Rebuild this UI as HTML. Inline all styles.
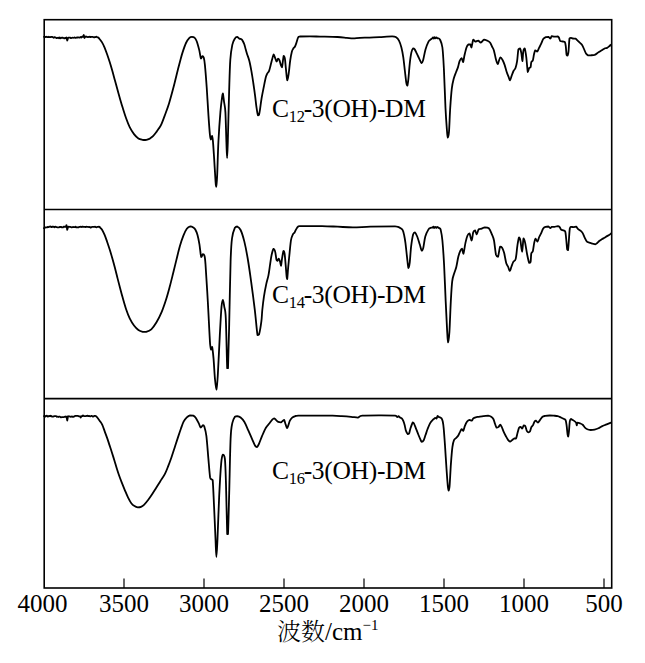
<!DOCTYPE html>
<html><head><meta charset="utf-8"><title>IR spectra</title>
<style>html,body{margin:0;padding:0;background:#fff;}body{width:645px;height:663px;overflow:hidden;}svg{display:block;}</style>
</head><body>
<svg width="645" height="663" viewBox="0 0 645 663"><rect x="0" y="0" width="645" height="663" fill="#fff"/><path d="M44.00,36.84C44.12,36.82 44.50,36.71 44.75,36.71C45.00,36.77 45.25,37.19 45.50,37.19C45.75,37.19 46.00,36.71 46.25,36.70C46.50,36.70 46.75,37.09 47.00,37.14C47.25,37.14 47.50,37.08 47.75,37.02C48.00,36.96 48.25,36.77 48.50,36.77C48.75,36.80 49.00,37.19 49.25,37.20C49.50,37.20 49.75,36.81 50.00,36.81C50.25,36.81 50.50,37.18 50.75,37.19C51.00,37.19 51.25,36.93 51.50,36.89C51.75,36.89 52.00,36.89 52.25,36.95C52.50,37.02 52.75,37.19 53.00,37.32C53.25,37.45 53.50,37.74 53.75,37.74C54.00,37.72 54.25,37.24 54.50,37.17C54.75,37.17 55.00,37.22 55.25,37.32C55.50,37.42 55.75,37.62 56.00,37.75C56.25,37.88 56.50,38.09 56.75,38.10C57.00,38.10 57.25,37.89 57.50,37.83C57.75,37.77 58.00,37.72 58.25,37.72C58.50,37.80 58.75,38.29 59.00,38.29C59.25,38.25 59.50,37.50 59.75,37.50C60.00,37.50 60.25,38.23 60.50,38.28C60.75,38.28 61.00,37.90 61.25,37.81C61.50,37.73 61.75,37.74 62.00,37.73C62.25,37.73 62.50,37.73 62.75,37.75C63.00,37.79 63.25,37.85 63.50,37.97C63.75,38.09 64.00,38.47 64.25,38.47C64.50,38.46 64.75,37.93 65.00,37.89C65.25,37.89 65.50,38.23 65.75,38.23C66.00,38.15 66.25,37.40 66.50,37.40C66.75,37.80 67.00,40.48 67.25,40.60C67.50,40.60 67.75,38.61 68.00,38.12C68.25,37.65 68.50,37.73 68.75,37.65C69.00,37.62 69.25,37.62 69.50,37.62C69.75,37.63 70.00,37.64 70.25,37.72C70.50,37.80 70.75,38.08 71.00,38.10C71.25,38.10 71.50,37.89 71.75,37.82C72.00,37.75 72.25,37.67 72.50,37.67C72.75,37.68 73.00,37.86 73.25,37.86C73.50,37.86 73.75,37.75 74.00,37.69C74.25,37.63 74.50,37.50 74.75,37.50C75.00,37.53 75.25,37.86 75.50,37.90C75.75,37.90 76.00,37.86 76.25,37.76C76.50,37.66 76.75,37.32 77.00,37.28C77.25,37.28 77.50,37.48 77.75,37.50C78.00,37.50 78.25,37.39 78.50,37.39C78.75,37.41 79.00,37.62 79.25,37.63C79.50,37.63 79.75,37.54 80.00,37.43C80.25,37.32 80.50,36.96 80.75,36.96C81.00,36.97 81.25,37.51 81.50,37.51C81.75,37.46 82.00,36.78 82.25,36.67C82.50,36.67 82.75,36.86 83.00,36.86C83.25,36.58 83.50,35.00 83.75,35.00C84.00,35.19 84.25,37.69 84.50,38.00C84.75,38.00 85.00,37.11 85.25,36.85C85.50,36.59 85.75,36.43 86.00,36.43C86.25,36.45 86.50,36.88 86.75,36.98C87.00,37.05 87.25,37.05 87.50,37.05C87.75,37.03 88.00,36.87 88.25,36.87C88.50,36.89 88.75,37.16 89.00,37.16C89.25,37.13 89.50,36.69 89.75,36.67C90.00,36.67 90.25,36.98 90.50,37.03C90.75,37.03 91.00,36.96 91.25,36.95C91.50,36.95 91.75,36.95 92.00,36.95C92.25,36.94 92.50,36.86 92.75,36.86C93.00,36.91 93.25,37.15 93.50,37.24C93.75,37.33 94.00,37.38 94.25,37.38C94.50,37.34 94.75,37.03 95.00,37.00C95.25,37.00 95.50,37.21 95.75,37.21C96.00,37.16 96.25,36.71 96.50,36.71C96.75,36.73 97.00,37.24 97.25,37.34C97.50,37.34 97.79,37.33 98.00,37.33C98.21,37.37 98.28,37.37 98.50,37.60C98.72,37.83 98.73,37.95 99.30,38.70C99.87,39.45 101.03,40.67 101.90,42.10C102.77,43.53 103.63,45.27 104.50,47.30C105.37,49.33 106.23,51.83 107.10,54.30C107.97,56.77 108.83,59.35 109.70,62.10C110.57,64.85 111.43,67.77 112.30,70.80C113.17,73.83 114.03,77.13 114.90,80.30C115.77,83.47 116.62,86.62 117.50,89.80C118.38,92.98 119.32,96.35 120.20,99.40C121.08,102.45 121.80,104.92 122.80,108.10C123.80,111.28 125.05,115.33 126.20,118.50C127.35,121.67 128.40,124.50 129.70,127.10C131.00,129.70 132.55,132.22 134.00,134.10C135.45,135.98 136.98,137.45 138.40,138.40C139.82,139.35 141.37,139.53 142.50,139.80C143.63,140.00 144.28,140.00 145.20,140.00C146.12,139.92 147.13,139.60 148.00,139.30C148.87,139.00 149.57,138.72 150.40,138.20C151.23,137.68 152.02,137.22 153.00,136.20C153.98,135.18 155.37,133.33 156.30,132.10C157.23,130.87 157.78,130.03 158.60,128.80C159.42,127.57 160.10,127.12 161.20,124.70C162.30,122.28 163.88,117.88 165.20,114.30C166.52,110.72 167.68,107.82 169.10,103.20C170.52,98.58 172.25,92.13 173.70,86.60C175.15,81.07 176.70,74.35 177.80,70.00C178.90,65.65 179.52,63.40 180.30,60.50C181.08,57.60 181.55,55.52 182.50,52.60C183.45,49.68 184.85,45.47 186.00,43.00C187.15,40.53 188.40,38.82 189.40,37.80C190.40,36.90 191.15,36.93 192.00,36.90C192.85,36.90 193.72,36.90 194.50,37.60C195.28,38.32 195.92,39.15 196.70,41.20C197.48,43.25 198.48,47.00 199.20,49.90C199.92,52.80 200.45,57.57 201.00,58.60C201.55,58.60 202.05,56.30 202.50,56.10C202.95,56.10 203.30,56.10 203.70,57.40C204.10,58.85 204.40,59.83 204.90,64.80C205.40,69.77 206.12,78.90 206.70,87.20C207.28,95.50 207.87,106.72 208.40,114.60C208.93,122.48 209.48,130.35 209.90,134.50C210.32,138.65 210.57,139.28 210.90,139.50C211.23,139.50 211.57,135.80 211.90,135.80C212.23,136.02 212.52,136.87 212.90,140.80C213.28,144.73 213.78,152.98 214.20,159.40C214.62,165.82 215.08,174.73 215.40,179.30C215.72,183.87 215.82,186.80 216.10,186.80C216.38,186.38 216.72,184.27 217.10,176.80C217.48,169.33 217.85,152.78 218.40,142.00C218.95,131.22 219.78,119.57 220.40,112.10C221.02,104.63 221.68,100.30 222.10,97.20C222.52,94.10 222.57,93.50 222.90,93.50C223.23,94.33 223.68,99.10 224.10,102.20C224.52,105.30 225.02,105.47 225.40,112.10C225.78,118.73 226.12,134.32 226.40,142.00C226.68,149.68 226.87,158.20 227.10,158.20C227.33,158.20 227.47,153.00 227.80,142.00C228.13,131.00 228.68,105.88 229.10,92.20C229.52,78.52 229.77,67.78 230.30,59.90C230.83,52.02 231.55,48.43 232.30,44.90C233.05,41.37 234.00,40.03 234.80,38.70C235.60,37.37 236.35,36.92 237.10,36.90C237.85,36.90 238.58,38.20 239.30,38.60C240.02,39.00 240.80,38.87 241.40,39.30C242.00,39.73 242.42,40.37 242.90,41.20C243.38,42.03 243.83,42.95 244.30,44.30C244.77,45.65 245.22,47.62 245.70,49.30C246.18,50.98 246.60,52.48 247.20,54.40C247.80,56.32 248.58,57.93 249.30,60.80C250.02,63.67 250.83,67.90 251.50,71.60C252.17,75.30 252.70,78.95 253.30,83.00C253.90,87.05 254.57,91.83 255.10,95.90C255.63,99.97 256.03,104.17 256.50,107.40C256.97,110.63 257.47,114.12 257.90,115.30C258.33,115.30 258.73,115.30 259.10,114.50C259.47,113.42 259.70,111.42 260.10,108.80C260.50,106.18 260.90,102.38 261.50,98.80C262.10,95.22 262.98,90.88 263.70,87.30C264.42,83.72 265.22,79.57 265.80,77.30C266.38,75.03 266.65,74.78 267.20,73.70C267.75,72.62 268.55,72.12 269.10,70.80C269.65,69.48 269.97,67.82 270.50,65.80C271.03,63.78 271.77,60.60 272.30,58.70C272.83,56.80 273.23,54.53 273.70,54.40C274.17,54.40 274.62,56.72 275.10,57.90C275.58,59.08 276.12,61.37 276.60,61.50C277.08,61.50 277.53,58.93 278.00,58.70C278.47,58.70 278.92,59.03 279.40,60.10C279.88,61.17 280.47,63.90 280.90,65.10C281.33,66.30 281.53,67.30 282.00,67.30C282.47,65.75 283.22,57.23 283.70,55.80C284.18,55.80 284.53,56.55 284.90,58.70C285.27,60.85 285.50,65.08 285.90,68.70C286.30,72.32 286.83,79.60 287.30,80.40C287.77,80.40 288.22,76.82 288.70,73.50C289.18,70.18 289.67,64.17 290.20,60.50C290.73,56.83 291.40,53.47 291.90,51.50C292.40,49.53 292.68,49.53 293.20,48.70C293.72,47.87 294.47,47.47 295.00,46.50C295.53,45.53 295.87,44.42 296.40,42.90C296.93,41.38 297.60,38.47 298.20,37.40C298.80,36.50 298.20,36.67 300.00,36.50C301.97,36.40 306.67,36.40 310.00,36.40C313.33,36.42 315.42,36.50 320.00,36.60C324.58,36.70 333.03,36.80 337.50,37.00C341.97,37.20 344.22,37.58 346.80,37.80C349.38,38.02 350.80,38.30 353.00,38.30C355.20,38.30 357.23,37.92 360.00,37.80C362.77,37.68 366.37,37.72 369.60,37.60C372.83,37.48 375.63,37.32 379.40,37.10C383.17,36.88 389.42,36.30 392.20,36.30C394.98,36.33 394.97,36.58 396.10,37.30C397.23,38.02 398.12,38.90 399.00,40.60C399.88,42.30 400.68,44.72 401.40,47.50C402.12,50.28 402.72,53.38 403.30,57.30C403.88,61.22 404.40,66.77 404.90,71.00C405.40,75.23 405.90,80.25 406.30,82.70C406.70,85.15 406.95,85.70 407.30,85.70C407.65,85.05 407.98,82.57 408.40,78.80C408.82,75.03 409.30,67.50 409.80,63.10C410.30,58.70 410.85,54.85 411.40,52.40C411.95,49.95 412.55,48.90 413.10,48.40C413.65,48.40 414.10,48.58 414.70,49.40C415.30,50.22 415.98,51.83 416.70,53.30C417.42,54.77 418.18,56.57 419.00,58.20C419.82,59.83 420.92,62.77 421.60,63.10C422.28,63.10 422.45,62.48 423.10,60.20C423.75,57.92 424.62,52.47 425.50,49.40C426.38,46.33 427.57,43.43 428.40,41.80C429.23,40.17 429.87,40.17 430.50,39.60C431.13,39.03 431.78,38.78 432.20,38.40C432.62,38.02 432.73,37.30 433.00,37.30C433.27,37.33 433.53,38.60 433.80,38.60C434.07,38.57 434.32,37.13 434.60,37.10C434.88,37.10 435.18,38.33 435.50,38.40C435.82,38.40 436.17,37.52 436.50,37.50C436.83,37.50 437.15,38.15 437.50,38.30C437.85,38.40 438.18,38.30 438.60,38.40C439.02,38.62 439.37,38.40 440.00,39.60C440.63,41.12 441.75,42.60 442.40,47.50C443.05,52.40 443.38,58.88 443.90,69.00C444.42,79.12 445.00,98.07 445.50,108.20C446.00,118.33 446.52,124.90 446.90,129.80C447.28,134.70 447.45,137.27 447.80,137.60C448.15,137.60 448.60,136.70 449.00,131.80C449.40,126.90 449.73,115.40 450.20,108.20C450.67,101.00 451.22,93.50 451.80,88.60C452.38,83.70 452.98,81.57 453.70,78.80C454.42,76.03 455.38,73.95 456.10,72.00C456.82,70.05 457.42,68.90 458.00,67.10C458.58,65.30 459.00,62.68 459.60,61.20C460.20,59.72 461.02,58.20 461.60,58.20C462.18,58.37 462.62,62.20 463.10,62.20C463.58,61.72 463.93,57.75 464.50,55.30C465.07,52.85 465.85,49.30 466.50,47.50C467.15,45.70 467.75,45.00 468.40,44.50C469.05,44.50 469.90,44.50 470.40,44.50C470.90,45.00 470.92,47.50 471.40,47.50C471.88,46.68 472.65,40.58 473.30,39.60C473.95,39.60 474.48,41.43 475.30,41.60C476.12,41.60 477.28,40.60 478.20,40.60C479.12,40.75 479.82,42.50 480.80,42.50C481.78,42.33 483.05,39.92 484.10,39.60C485.15,39.60 486.12,40.12 487.10,40.60C488.08,41.08 489.18,41.52 490.00,42.50C490.82,43.48 491.35,45.18 492.00,46.50C492.65,47.82 493.25,48.28 493.90,50.40C494.55,52.52 495.25,56.92 495.90,59.20C496.55,61.48 497.32,63.77 497.80,64.10C498.28,64.10 498.37,62.33 498.80,61.20C499.23,60.07 499.75,57.47 500.40,57.30C501.05,57.30 501.98,58.90 502.70,60.20C503.42,61.50 504.03,63.13 504.70,65.10C505.37,67.07 506.05,70.03 506.70,72.00C507.35,73.97 508.05,75.50 508.60,76.90C509.15,78.30 509.50,80.40 510.00,80.40C510.50,80.23 511.02,77.47 511.60,75.90C512.18,74.33 512.85,72.32 513.50,71.00C514.15,69.68 514.90,69.63 515.50,68.00C516.10,66.37 516.62,64.30 517.10,61.20C517.58,58.10 517.92,51.53 518.40,49.40C518.88,48.40 519.50,48.40 520.00,48.40C520.50,49.05 521.00,51.17 521.40,53.30C521.80,55.43 522.08,61.20 522.40,61.20C522.72,60.88 522.92,53.53 523.30,51.40C523.68,49.27 524.20,48.40 524.70,48.40C525.20,49.38 525.78,53.37 526.30,57.30C526.82,61.23 527.32,70.22 527.80,72.00C528.28,72.00 528.73,68.82 529.20,68.00C529.67,67.18 530.25,68.00 530.60,67.10C530.95,66.13 530.92,63.35 531.30,62.20C531.68,61.05 532.45,61.52 532.90,60.20C533.35,58.88 533.60,55.95 534.00,54.30C534.40,52.65 534.77,50.75 535.30,50.30C535.83,50.30 536.55,51.60 537.20,51.60C537.85,51.17 538.53,49.02 539.20,47.70C539.87,46.38 540.53,45.13 541.20,43.70C541.87,42.27 542.43,40.20 543.20,39.10C543.97,38.00 544.92,37.47 545.80,37.10C546.68,36.90 547.73,36.90 548.50,36.90C549.27,37.13 549.87,38.50 550.40,38.50C550.93,38.37 551.03,36.40 551.70,36.10C552.37,36.10 553.40,36.63 554.40,36.70C555.40,36.70 556.93,36.50 557.70,36.50C558.47,36.68 558.57,37.03 559.00,37.80C559.43,38.57 559.65,40.48 560.30,41.10C560.95,41.50 562.13,41.33 562.90,41.50C563.67,41.67 564.42,41.50 564.90,42.10C565.38,42.92 565.52,44.27 565.80,46.40C566.08,48.53 566.30,53.37 566.60,54.90C566.90,55.60 567.28,55.60 567.60,55.60C567.92,55.05 568.18,54.45 568.50,51.60C568.82,48.75 569.10,40.80 569.50,38.50C569.90,37.80 570.35,37.80 570.90,37.80C571.45,37.80 572.03,38.35 572.80,38.50C573.57,38.65 574.73,38.50 575.50,38.70C576.27,39.02 576.75,39.78 577.40,40.40C578.05,41.02 578.62,41.63 579.40,42.40C580.18,43.17 581.33,43.90 582.10,45.00C582.87,46.10 583.35,47.57 584.00,49.00C584.65,50.43 585.33,52.55 586.00,53.60C586.67,54.65 587.23,55.02 588.00,55.30C588.77,55.30 589.50,55.30 590.60,55.30C591.70,55.23 593.28,55.30 594.60,54.90C595.92,54.40 597.30,53.07 598.50,52.30C599.70,51.53 600.70,50.97 601.80,50.30C602.90,49.63 604.22,48.70 605.10,48.30C605.98,47.90 606.43,48.22 607.10,47.90C607.77,47.58 608.45,46.95 609.10,46.40C609.75,45.85 610.68,44.90 611.00,44.60" fill="none" stroke="#000" stroke-width="1.8" stroke-linejoin="round" stroke-linecap="round"/><path d="M44.00,228.14C44.12,228.10 44.50,228.03 44.75,227.89C45.00,227.75 45.25,227.41 45.50,227.31C45.75,227.30 46.00,227.30 46.25,227.30C46.50,227.33 46.75,227.46 47.00,227.46C47.25,227.37 47.50,226.84 47.75,226.78C48.00,226.78 48.25,227.08 48.50,227.08C48.75,227.07 49.00,226.80 49.25,226.71C49.50,226.62 49.75,226.60 50.00,226.57C50.25,226.54 50.50,226.52 50.75,226.52C51.00,226.62 51.25,227.15 51.50,227.17C51.75,227.17 52.00,226.68 52.25,226.61C52.50,226.61 52.75,226.70 53.00,226.74C53.25,226.78 53.50,226.78 53.75,226.88C54.00,226.98 54.25,227.33 54.50,227.33C54.75,227.29 55.00,226.69 55.25,226.63C55.50,226.63 55.75,226.90 56.00,226.98C56.25,227.06 56.50,227.02 56.75,227.09C57.00,227.16 57.25,227.36 57.50,227.40C57.75,227.40 58.00,227.36 58.25,227.36C58.50,227.36 58.75,227.42 59.00,227.42C59.25,227.34 59.50,226.97 59.75,226.90C60.00,226.90 60.25,227.00 60.50,227.01C60.75,227.01 61.00,226.95 61.25,226.95C61.50,227.02 61.75,227.32 62.00,227.41C62.25,227.47 62.50,227.47 62.75,227.47C63.00,227.36 63.25,226.86 63.50,226.74C63.75,226.74 64.00,226.74 64.25,226.75C64.50,226.76 64.75,226.78 65.00,226.79C65.25,226.79 65.50,226.79 65.75,226.78C66.00,226.51 66.25,225.20 66.50,225.20C66.75,225.72 67.00,229.63 67.25,229.90C67.50,229.90 67.75,227.35 68.00,226.79C68.25,226.55 68.50,226.55 68.75,226.55C69.00,226.57 69.25,226.88 69.50,226.93C69.75,226.93 70.00,226.88 70.25,226.88C70.50,226.90 70.75,226.97 71.00,227.06C71.25,227.15 71.50,227.39 71.75,227.41C72.00,227.41 72.25,227.24 72.50,227.17C72.75,227.10 73.00,227.02 73.25,227.01C73.50,227.01 73.75,227.09 74.00,227.11C74.25,227.14 74.50,227.16 74.75,227.16C75.00,227.07 75.25,226.60 75.50,226.60C75.75,226.63 76.00,227.25 76.25,227.36C76.50,227.36 76.75,227.25 77.00,227.25C77.25,227.25 77.50,227.33 77.75,227.34C78.00,227.34 78.25,227.34 78.50,227.29C78.75,227.22 79.00,227.00 79.25,226.94C79.50,226.94 79.75,226.96 80.00,226.96C80.25,226.92 80.50,226.72 80.75,226.72C81.00,226.76 81.25,227.21 81.50,227.21C81.75,227.21 82.00,226.80 82.25,226.72C82.50,226.72 82.75,226.72 83.00,226.74C83.25,226.77 83.50,226.86 83.75,226.88C84.00,226.88 84.25,226.86 84.50,226.86C84.75,226.89 85.00,227.04 85.25,227.04C85.50,227.03 85.75,226.84 86.00,226.80C86.25,226.77 86.50,226.77 86.75,226.77C87.00,226.79 87.25,226.90 87.50,226.92C87.75,226.92 88.00,226.90 88.25,226.90C88.50,226.94 88.75,227.15 89.00,227.15C89.25,227.15 89.50,226.87 89.75,226.87C90.00,226.94 90.25,227.53 90.50,227.60C90.75,227.60 91.00,227.45 91.25,227.32C91.50,227.19 91.75,226.91 92.00,226.84C92.25,226.84 92.50,226.88 92.75,226.89C93.00,226.90 93.25,226.92 93.50,226.92C93.75,226.92 94.00,226.92 94.25,226.88C94.50,226.83 94.75,226.61 95.00,226.61C95.25,226.67 95.50,227.10 95.75,227.21C96.00,227.29 96.25,227.29 96.50,227.29C96.75,227.22 97.00,226.84 97.25,226.78C97.50,226.78 97.75,226.92 98.00,226.92C98.25,226.90 98.50,226.70 98.75,226.69C99.00,226.69 99.36,226.76 99.50,226.83C99.60,226.90 99.50,226.83 99.60,227.10C100.00,227.54 101.08,228.23 101.90,229.50C102.72,230.77 103.63,232.67 104.50,234.70C105.37,236.73 106.23,239.23 107.10,241.70C107.97,244.17 108.83,246.75 109.70,249.50C110.57,252.25 111.43,255.17 112.30,258.20C113.17,261.23 114.03,264.38 114.90,267.70C115.77,271.02 116.62,274.63 117.50,278.10C118.38,281.57 119.32,285.17 120.20,288.50C121.08,291.83 121.80,294.60 122.80,298.10C123.80,301.60 125.05,306.12 126.20,309.50C127.35,312.88 128.40,315.73 129.70,318.40C131.00,321.07 132.55,323.57 134.00,325.50C135.45,327.43 136.95,328.95 138.40,330.00C139.85,331.05 141.42,331.48 142.70,331.80C143.98,331.90 144.67,331.90 146.10,331.90C147.53,331.48 149.57,330.90 151.30,329.30C153.03,327.70 154.77,325.20 156.50,322.30C158.23,319.40 160.12,315.65 161.70,311.90C163.28,308.15 164.70,303.85 166.00,299.80C167.30,295.75 168.33,291.93 169.50,287.60C170.67,283.27 171.85,278.42 173.00,273.80C174.15,269.18 175.25,264.53 176.40,259.90C177.55,255.27 178.73,250.05 179.90,246.00C181.07,241.95 182.25,238.48 183.40,235.60C184.55,232.72 185.65,230.23 186.80,228.70C187.95,227.17 189.22,226.62 190.30,226.40C191.38,226.40 192.47,226.88 193.30,227.40C194.13,227.92 194.60,228.23 195.30,229.50C196.00,230.77 196.82,232.55 197.50,235.00C198.18,237.45 198.78,240.53 199.40,244.20C200.02,247.87 200.60,255.33 201.20,257.00C201.80,257.00 202.47,254.43 203.00,254.20C203.53,254.20 203.98,254.20 204.40,255.60C204.82,257.27 204.93,256.60 205.50,264.20C206.07,271.80 207.03,287.90 207.80,301.20C208.57,314.50 209.53,335.92 210.10,344.00C210.67,349.70 210.87,349.23 211.20,349.70C211.53,349.70 211.72,346.80 212.10,346.80C212.48,348.22 213.03,352.97 213.50,358.20C213.97,363.43 214.42,372.97 214.90,378.20C215.38,383.43 215.92,389.60 216.40,389.60C216.88,389.12 217.23,384.33 217.80,375.30C218.37,366.27 219.18,346.80 219.80,335.40C220.42,324.00 220.98,312.83 221.50,306.90C222.02,300.97 222.43,299.80 222.90,299.80C223.37,299.80 223.82,303.82 224.30,306.90C224.78,309.98 225.32,308.08 225.80,318.30C226.28,328.52 226.83,359.88 227.20,368.20C227.57,368.20 227.67,368.20 228.00,368.20C228.33,360.83 228.77,341.82 229.20,324.00C229.63,306.18 230.13,275.55 230.60,261.30C231.07,247.05 231.28,244.10 232.00,238.50C232.72,232.90 234.03,229.70 234.90,227.70C235.77,226.50 236.25,226.50 237.20,226.50C238.15,226.88 239.42,227.52 240.60,230.00C241.78,232.48 243.12,236.65 244.30,241.40C245.48,246.15 246.57,251.85 247.70,258.50C248.83,265.15 249.92,272.75 251.10,281.30C252.28,289.85 253.73,300.85 254.80,309.80C255.87,318.75 256.78,330.92 257.50,335.00C258.22,335.00 258.45,335.00 259.10,334.30C259.75,332.00 260.87,325.25 261.40,321.20C261.93,317.15 261.88,314.07 262.30,310.00C262.72,305.93 263.25,301.07 263.90,296.80C264.55,292.53 265.43,288.02 266.20,284.40C266.97,280.78 267.85,278.45 268.50,275.10C269.15,271.75 269.58,267.65 270.10,264.30C270.62,260.95 271.02,257.58 271.60,255.00C272.18,252.42 273.00,249.32 273.60,248.80C274.20,248.80 274.72,250.03 275.20,251.90C275.68,253.77 276.13,258.50 276.50,260.00C276.87,260.90 277.03,260.90 277.40,260.90C277.77,260.68 278.25,258.70 278.70,258.70C279.15,258.85 279.72,260.60 280.10,261.80C280.48,263.00 280.67,265.90 281.00,265.90C281.33,265.30 281.68,260.68 282.10,258.20C282.52,255.72 283.08,251.75 283.50,251.00C283.92,251.00 284.23,251.30 284.60,253.70C284.97,256.10 285.37,261.63 285.70,265.40C286.03,269.17 286.35,274.03 286.60,276.30C286.85,278.57 286.93,279.00 287.20,279.00C287.47,277.48 287.80,271.57 288.20,267.20C288.60,262.83 289.13,257.32 289.60,252.80C290.07,248.28 290.47,243.12 291.00,240.10C291.53,237.08 292.20,235.98 292.80,234.70C293.40,233.42 294.08,233.23 294.60,232.40C295.12,231.57 295.30,230.68 295.90,229.70C296.50,228.72 297.43,227.10 298.20,226.50C298.97,226.10 298.20,226.17 300.50,226.10C304.47,226.10 315.83,226.10 322.00,226.10C328.17,226.20 332.33,226.48 337.50,226.70C342.67,226.92 347.52,227.40 353.00,227.40C358.48,227.40 363.40,226.87 370.40,226.70C377.40,226.53 390.40,226.40 395.00,226.40C398.00,226.43 397.13,226.65 398.00,226.90C398.87,227.15 399.42,227.35 400.20,227.90C400.98,228.45 402.03,228.93 402.70,230.20C403.37,231.47 403.75,233.43 404.20,235.50C404.65,237.57 404.93,239.05 405.40,242.60C405.87,246.15 406.50,252.57 407.00,256.80C407.50,261.03 407.95,266.98 408.40,268.00C408.85,268.00 409.25,266.45 409.70,262.90C410.15,259.35 410.53,251.45 411.10,246.70C411.67,241.95 412.48,236.78 413.10,234.40C413.72,232.40 414.12,232.40 414.80,232.40C415.48,232.75 416.37,234.47 417.20,236.50C418.03,238.53 419.05,242.23 419.80,244.60C420.55,246.97 421.12,250.18 421.70,250.70C422.28,250.70 422.70,250.07 423.30,247.70C423.90,245.33 424.43,239.55 425.30,236.50C426.17,233.45 427.63,230.83 428.50,229.40C429.37,227.97 429.83,228.20 430.50,227.90C431.17,227.60 432.03,227.82 432.50,227.60C432.97,227.38 433.02,226.60 433.30,226.60C433.58,226.67 433.88,227.97 434.20,228.00C434.52,228.00 434.87,226.82 435.20,226.80C435.53,226.80 435.87,227.88 436.20,227.90C436.53,227.90 436.85,226.95 437.20,226.90C437.55,226.90 437.92,227.37 438.30,227.60C438.68,227.83 439.12,228.00 439.50,228.30C439.88,228.60 440.12,228.30 440.60,229.40C441.08,231.43 441.82,234.57 442.40,240.50C442.98,246.43 443.55,254.82 444.10,265.00C444.65,275.18 445.20,290.75 445.70,301.60C446.20,312.45 446.70,323.30 447.10,330.10C447.50,336.90 447.72,342.05 448.10,342.40C448.48,342.40 448.95,339.00 449.40,332.20C449.85,325.40 450.33,310.08 450.80,301.60C451.27,293.12 451.62,286.05 452.20,281.30C452.78,276.55 453.62,275.48 454.30,273.10C454.98,270.72 455.63,269.72 456.30,267.00C456.97,264.28 457.62,259.52 458.30,256.80C458.98,254.08 459.78,252.05 460.40,250.70C461.02,249.35 461.50,248.70 462.00,248.70C462.50,249.22 462.82,253.80 463.40,253.80C463.98,252.78 464.82,245.65 465.50,242.60C466.18,239.55 466.83,237.03 467.50,235.50C468.17,233.97 468.82,233.40 469.50,233.40C470.18,234.23 470.98,240.50 471.60,240.50C472.22,240.33 472.63,234.08 473.20,232.40C473.77,230.72 474.42,230.40 475.00,230.40C475.58,230.73 476.08,234.40 476.70,234.40C477.32,234.22 477.87,230.25 478.70,229.30C479.53,228.70 480.68,229.03 481.70,228.70C482.72,228.37 483.60,227.37 484.80,227.30C486.00,227.30 487.72,227.30 488.90,228.30C490.08,229.48 491.05,232.37 491.90,234.40C492.75,236.43 493.32,237.10 494.00,240.50C494.68,243.90 495.33,252.08 496.00,254.80C496.67,256.80 497.32,256.80 498.00,256.80C498.68,255.45 499.42,248.22 500.10,246.70C500.78,246.70 501.43,246.70 502.10,247.70C502.77,248.72 503.42,250.27 504.10,252.80C504.78,255.33 505.52,260.53 506.20,262.90C506.88,265.27 507.60,265.63 508.20,267.00C508.80,268.37 509.28,271.10 509.80,271.10C510.32,271.10 510.72,268.53 511.30,267.00C511.88,265.47 512.57,263.25 513.30,261.90C514.03,260.55 515.02,261.62 515.70,258.90C516.38,256.18 516.85,249.17 517.40,245.60C517.95,242.03 518.50,238.35 519.00,237.50C519.50,237.50 519.88,238.13 520.40,240.50C520.92,242.87 521.58,251.70 522.10,251.70C522.62,251.37 523.00,240.02 523.50,238.50C524.00,238.50 524.48,239.88 525.10,242.60C525.72,245.32 526.52,251.42 527.20,254.80C527.88,258.18 528.63,261.72 529.20,262.90C529.77,262.90 530.25,262.90 530.60,261.90C530.95,260.33 530.92,255.33 531.30,253.50C531.68,251.67 532.42,252.67 532.90,250.90C533.38,249.13 533.77,244.93 534.20,242.90C534.63,240.87 534.95,238.92 535.50,238.70C536.05,238.70 536.88,241.60 537.50,241.60C538.12,241.32 538.58,238.42 539.20,237.00C539.82,235.58 540.53,234.52 541.20,233.10C541.87,231.68 542.47,229.53 543.20,228.50C543.93,227.47 544.72,227.23 545.60,226.90C546.48,226.57 547.70,226.50 548.50,226.50C549.30,226.72 549.87,228.13 550.40,228.20C550.93,228.20 551.03,227.12 551.70,226.90C552.37,226.90 553.37,226.90 554.40,226.90C555.43,226.77 557.02,226.10 557.90,226.10C558.78,226.13 559.18,226.53 559.70,227.10C560.22,227.67 560.35,228.95 561.00,229.50C561.65,230.05 562.88,230.03 563.60,230.40C564.32,230.77 564.87,230.40 565.30,231.70C565.73,233.13 565.88,236.03 566.20,239.00C566.52,241.97 566.90,247.63 567.20,249.50C567.50,250.20 567.77,250.20 568.00,250.20C568.23,249.33 568.30,247.92 568.60,244.30C568.90,240.68 569.38,231.40 569.80,228.50C570.22,226.90 570.48,227.13 571.10,226.90C571.72,226.90 572.67,227.10 573.50,227.10C574.33,227.07 575.33,226.70 576.10,226.70C576.87,227.03 577.33,228.42 578.10,229.10C578.87,229.78 579.93,230.13 580.70,230.80C581.47,231.47 582.03,231.95 582.70,233.10C583.37,234.25 584.03,236.32 584.70,237.70C585.37,239.08 585.93,240.57 586.70,241.40C587.47,242.23 588.32,242.33 589.30,242.70C590.28,243.07 591.62,243.33 592.60,243.60C593.58,243.87 594.43,244.30 595.20,244.30C595.97,244.20 596.53,243.55 597.20,243.00C597.87,242.45 598.43,241.62 599.20,241.00C599.97,240.38 600.92,239.85 601.80,239.30C602.68,238.75 603.62,238.23 604.50,237.70C605.38,237.17 606.33,236.55 607.10,236.10C607.87,235.65 608.45,235.43 609.10,235.00C609.75,234.57 610.68,233.75 611.00,233.50" fill="none" stroke="#000" stroke-width="1.8" stroke-linejoin="round" stroke-linecap="round"/><path d="M44.00,416.06C44.12,416.05 44.50,415.99 44.75,415.99C45.00,416.06 45.25,416.50 45.50,416.50C45.75,416.49 46.00,416.02 46.25,415.90C46.50,415.78 46.75,415.77 47.00,415.77C47.25,415.89 47.50,416.53 47.75,416.61C48.00,416.61 48.25,416.35 48.50,416.23C48.75,416.11 49.00,415.88 49.25,415.88C49.50,415.88 49.75,416.24 50.00,416.24C50.25,416.22 50.50,415.77 50.75,415.77C51.00,415.77 51.25,416.09 51.50,416.23C51.75,416.37 52.00,416.58 52.25,416.63C52.50,416.63 52.75,416.57 53.00,416.53C53.25,416.49 53.50,416.46 53.75,416.38C54.00,416.30 54.25,416.06 54.50,416.03C54.75,416.03 55.00,416.20 55.25,416.22C55.50,416.22 55.75,416.14 56.00,416.14C56.25,416.24 56.50,416.70 56.75,416.79C57.00,416.79 57.25,416.67 57.50,416.67C57.75,416.71 58.00,417.00 58.25,417.00C58.50,417.00 58.75,416.75 59.00,416.69C59.25,416.64 59.50,416.64 59.75,416.64C60.00,416.72 60.25,417.04 60.50,417.15C60.75,417.26 61.00,417.29 61.25,417.29C61.50,417.29 61.75,417.18 62.00,417.15C62.25,417.12 62.50,417.10 62.75,417.09C63.00,417.09 63.25,417.09 63.50,417.09C63.75,417.07 64.00,417.09 64.25,417.00C64.50,416.90 64.75,416.56 65.00,416.52C65.25,416.52 65.50,416.75 65.75,416.76C66.00,416.76 66.25,416.59 66.50,416.59C66.75,417.23 67.00,420.60 67.25,420.60C67.50,420.54 67.75,416.94 68.00,416.24C68.25,416.24 68.50,416.39 68.75,416.41C69.00,416.41 69.25,416.34 69.50,416.34C69.75,416.38 70.00,416.59 70.25,416.68C70.50,416.77 70.75,416.87 71.00,416.87C71.25,416.82 71.50,416.38 71.75,416.36C72.00,416.36 72.25,416.69 72.50,416.75C72.75,416.75 73.00,416.75 73.25,416.74C73.50,416.73 73.75,416.74 74.00,416.66C74.25,416.55 74.50,416.20 74.75,416.08C75.00,415.96 75.25,415.95 75.50,415.92C75.75,415.89 76.00,415.90 76.25,415.89C76.50,415.88 76.75,415.85 77.00,415.84C77.25,415.83 77.50,415.82 77.75,415.82C78.00,415.87 78.25,416.07 78.50,416.16C78.75,416.25 79.00,416.36 79.25,416.38C79.50,416.38 79.75,416.30 80.00,416.30C80.25,416.50 80.50,417.60 80.75,417.60C81.00,417.56 81.25,416.31 81.50,416.07C81.75,416.07 82.00,416.18 82.25,416.18C82.50,416.09 82.75,415.53 83.00,415.50C83.25,415.50 83.50,415.88 83.75,415.99C84.00,416.11 84.25,416.18 84.50,416.19C84.75,416.19 85.00,416.08 85.25,416.06C85.50,416.06 85.75,416.06 86.00,416.06C86.25,416.02 86.50,415.92 86.75,415.84C87.00,415.76 87.25,415.59 87.50,415.59C87.75,415.64 88.00,416.14 88.25,416.17C88.50,416.17 88.75,415.78 89.00,415.78C89.25,415.79 89.50,416.13 89.75,416.23C90.00,416.33 90.25,416.40 90.50,416.40C90.75,416.35 91.00,415.99 91.25,415.92C91.50,415.92 91.75,415.92 92.00,415.98C92.25,416.08 92.50,416.45 92.75,416.52C93.00,416.52 93.25,416.48 93.50,416.38C93.75,416.28 94.00,416.00 94.25,415.93C94.50,415.93 94.75,415.93 95.00,415.95C95.25,415.97 95.50,415.95 95.75,416.03C96.00,416.16 96.34,416.65 96.50,416.76C96.66,416.76 96.50,416.70 96.70,416.70C97.25,417.39 98.87,419.53 99.80,420.90C100.73,422.27 101.48,423.15 102.30,424.90C103.12,426.65 103.90,429.23 104.70,431.40C105.50,433.57 106.30,435.62 107.10,437.90C107.90,440.18 108.70,442.68 109.50,445.10C110.30,447.52 111.08,449.83 111.90,452.40C112.72,454.97 113.58,457.82 114.40,460.50C115.22,463.18 116.00,465.95 116.80,468.50C117.60,471.05 118.40,473.52 119.20,475.80C120.00,478.08 120.65,479.78 121.60,482.20C122.55,484.62 123.82,487.73 124.90,490.30C125.98,492.87 127.03,495.45 128.10,497.60C129.17,499.75 130.23,501.78 131.30,503.20C132.37,504.62 133.42,505.42 134.50,506.10C135.58,506.78 136.72,507.18 137.80,507.30C138.88,507.30 139.97,507.22 141.00,506.80C142.03,506.38 142.82,505.93 144.00,504.80C145.18,503.67 146.75,501.75 148.10,500.00C149.45,498.25 150.77,496.32 152.10,494.30C153.43,492.28 154.75,490.05 156.10,487.90C157.45,485.75 158.75,483.68 160.20,481.40C161.65,479.12 163.47,476.75 164.80,474.20C166.13,471.65 167.08,468.93 168.20,466.10C169.32,463.27 170.42,460.30 171.50,457.20C172.58,454.10 173.65,450.72 174.70,447.50C175.75,444.28 176.78,440.98 177.80,437.90C178.82,434.82 179.83,431.70 180.80,429.00C181.77,426.30 182.60,423.63 183.60,421.70C184.60,419.77 185.73,418.47 186.80,417.40C187.87,416.33 188.92,415.58 190.00,415.30C191.08,415.30 192.35,415.30 193.30,415.70C194.25,416.10 194.80,416.45 195.70,417.70C196.60,418.95 197.87,421.57 198.70,423.20C199.53,424.83 199.98,427.17 200.70,427.50C201.42,427.50 202.38,425.30 203.00,425.20C203.62,425.20 203.83,425.20 204.40,426.90C204.97,428.72 205.73,430.77 206.40,436.10C207.07,441.43 207.78,452.02 208.40,458.90C209.02,465.78 209.58,473.98 210.10,477.40C210.62,479.40 211.07,478.93 211.50,479.40C211.93,479.87 212.27,479.40 212.70,480.20C213.13,484.85 213.63,497.55 214.10,507.30C214.57,517.05 215.12,530.42 215.50,538.70C215.88,546.98 216.07,557.00 216.40,557.00C216.73,557.00 217.03,548.88 217.50,538.70C217.97,528.52 218.58,508.50 219.20,495.90C219.82,483.30 220.58,469.98 221.20,463.10C221.82,456.22 222.28,455.30 222.90,454.60C223.52,454.60 224.38,454.60 224.90,458.90C225.42,463.88 225.62,471.98 226.00,484.50C226.38,497.02 226.87,525.75 227.20,534.00C227.53,534.00 227.67,534.00 228.00,534.00C228.33,527.18 228.77,508.95 229.20,493.10C229.63,477.25 230.08,450.55 230.60,438.90C231.12,427.25 231.58,426.90 232.30,423.20C233.02,419.50 234.08,417.88 234.90,416.70C235.72,416.10 236.25,416.10 237.20,416.10C238.15,416.23 239.42,416.55 240.60,417.50C241.78,418.45 243.02,419.65 244.30,421.80C245.58,423.95 247.02,427.55 248.30,430.40C249.58,433.25 250.88,436.38 252.00,438.90C253.12,441.42 254.18,444.13 255.00,445.50C255.82,446.87 256.25,447.10 256.90,447.10C257.55,446.85 258.05,445.82 258.90,444.00C259.75,442.18 260.83,438.92 262.00,436.20C263.17,433.48 264.62,429.90 265.90,427.70C267.18,425.50 268.67,424.30 269.70,423.00C270.73,421.70 271.37,420.67 272.10,419.90C272.83,419.13 273.47,418.40 274.10,418.40C274.73,418.40 275.20,419.32 275.90,419.90C276.60,420.48 277.45,421.50 278.30,421.90C279.15,422.30 280.23,422.30 281.00,422.30C281.77,422.10 282.38,421.10 282.90,420.70C283.42,420.30 283.63,419.90 284.10,419.90C284.57,420.55 285.20,423.23 285.70,424.60C286.20,425.97 286.67,427.97 287.10,428.10C287.53,428.10 287.83,426.63 288.30,425.40C288.77,424.17 289.25,422.00 289.90,420.70C290.55,419.40 291.30,418.37 292.20,417.60C293.10,416.83 294.27,416.43 295.30,416.10C296.33,415.77 295.30,415.67 298.40,415.60C302.02,415.60 311.32,415.68 317.00,415.70C322.68,415.70 328.37,415.70 332.50,415.70C336.63,415.77 338.70,415.92 341.80,416.10C344.90,416.28 348.43,416.55 351.10,416.80C353.77,417.05 355.92,417.60 357.80,417.60C359.68,417.42 358.53,416.07 362.40,415.70C366.27,415.40 375.57,415.42 381.00,415.40C386.43,415.40 392.40,415.43 395.00,415.60C396.60,415.77 396.22,416.13 396.60,416.40C396.98,416.67 396.98,417.20 397.30,417.20C397.62,417.17 398.05,416.20 398.50,416.20C398.95,416.27 399.42,417.20 400.00,417.60C400.58,418.00 401.42,417.98 402.00,418.60C402.58,419.22 403.05,420.20 403.50,421.30C403.95,422.40 404.30,423.65 404.70,425.20C405.10,426.75 405.38,429.12 405.90,430.60C406.42,432.08 407.28,433.58 407.80,434.10C408.32,434.10 408.55,434.10 409.00,433.70C409.45,432.73 409.87,430.18 410.50,428.30C411.13,426.42 412.22,423.18 412.80,422.40C413.38,422.40 413.48,422.62 414.00,423.60C414.52,424.58 415.18,426.48 415.90,428.30C416.62,430.12 417.52,432.57 418.30,434.50C419.08,436.43 420.03,438.68 420.60,439.90C421.17,441.12 421.18,441.73 421.70,441.80C422.22,441.80 423.05,441.47 423.70,440.30C424.35,439.13 424.95,436.68 425.60,434.80C426.25,432.92 426.88,430.87 427.60,429.00C428.32,427.13 429.13,425.02 429.90,423.60C430.67,422.18 431.55,421.27 432.20,420.50C432.85,419.73 433.28,419.45 433.80,419.00C434.32,418.55 434.85,417.87 435.30,417.80C435.75,417.80 436.12,418.60 436.50,418.60C436.88,418.28 437.22,416.17 437.60,415.90C437.98,415.90 438.40,416.75 438.80,417.00C439.20,417.25 439.55,417.20 440.00,417.40C440.45,417.60 441.05,417.55 441.50,418.20C441.95,418.85 442.33,419.62 442.70,421.30C443.07,422.98 443.32,424.27 443.70,428.30C444.08,432.33 444.53,438.75 445.00,445.50C445.47,452.25 446.03,462.08 446.50,468.80C446.97,475.52 447.45,482.18 447.80,485.80C448.15,489.42 448.30,490.50 448.60,490.50C448.90,490.50 449.22,490.20 449.60,485.80C449.98,481.40 450.43,470.55 450.90,464.10C451.37,457.65 451.88,451.10 452.40,447.10C452.92,443.10 453.35,441.65 454.00,440.10C454.65,438.55 455.58,438.58 456.30,437.80C457.02,437.02 457.65,436.43 458.30,435.40C458.95,434.37 459.63,432.63 460.20,431.60C460.77,430.57 461.18,429.33 461.70,429.20C462.22,429.20 462.78,430.80 463.30,430.80C463.82,430.28 464.17,427.65 464.80,426.10C465.43,424.55 466.32,422.53 467.10,421.50C467.88,420.47 468.72,420.03 469.50,419.90C470.28,419.90 471.17,420.70 471.80,420.70C472.43,420.45 472.65,418.97 473.30,418.40C473.95,417.83 474.78,417.57 475.70,417.30C476.62,417.03 477.52,417.00 478.80,416.80C480.08,416.60 481.85,416.28 483.40,416.10C484.95,415.92 486.80,415.70 488.10,415.70C489.40,415.82 490.30,416.22 491.20,416.80C492.10,417.38 492.87,418.03 493.50,419.20C494.13,420.37 494.48,422.38 495.00,423.80C495.52,425.22 496.00,427.18 496.60,427.70C497.20,427.70 498.00,427.42 498.60,426.90C499.20,426.38 499.68,424.60 500.20,424.60C500.72,424.60 501.13,425.73 501.70,426.90C502.27,428.07 502.90,430.05 503.60,431.60C504.30,433.15 505.13,434.78 505.90,436.20C506.67,437.62 507.50,439.20 508.20,440.10C508.90,441.00 509.45,441.60 510.10,441.60C510.75,441.60 511.43,440.62 512.10,440.10C512.77,439.58 513.45,438.77 514.10,438.50C514.75,438.50 515.43,438.50 516.00,438.50C516.57,437.60 516.98,434.90 517.50,433.10C518.02,431.30 518.58,428.73 519.10,427.70C519.62,426.90 520.08,426.90 520.60,426.90C521.12,427.03 521.68,428.50 522.20,428.50C522.72,428.25 523.18,425.80 523.70,425.40C524.22,425.40 524.78,425.40 525.30,426.10C525.82,427.00 526.28,429.77 526.80,430.80C527.32,431.83 527.88,432.17 528.40,432.30C528.92,432.30 529.42,432.30 529.90,431.60C530.38,430.77 530.80,428.33 531.30,427.30C531.80,426.27 532.35,426.38 532.90,425.40C533.45,424.42 534.10,422.18 534.60,421.40C535.10,420.70 535.35,420.70 535.90,420.70C536.45,420.92 537.23,422.70 537.90,422.70C538.57,422.60 539.13,421.08 539.90,420.10C540.67,419.12 541.62,417.50 542.50,416.80C543.38,416.10 543.98,416.12 545.20,415.90C546.42,415.68 548.38,415.53 549.80,415.50C551.22,415.50 552.38,415.60 553.70,415.70C555.02,415.80 556.48,415.80 557.70,416.10C558.92,416.40 560.02,417.05 561.00,417.50C561.98,417.95 562.83,418.37 563.60,418.80C564.37,419.23 565.10,419.00 565.60,420.10C566.10,421.20 566.27,422.98 566.60,425.40C566.93,427.82 567.33,432.73 567.60,434.60C567.87,436.47 567.98,436.60 568.20,436.60C568.42,436.17 568.63,434.53 568.90,432.00C569.17,429.47 569.47,423.57 569.80,421.40C570.13,419.23 570.40,419.22 570.90,419.00C571.40,419.00 572.15,419.70 572.80,420.10C573.45,420.50 574.25,420.97 574.80,421.40C575.35,421.83 575.77,422.03 576.10,422.70C576.43,423.37 576.58,425.40 576.80,425.40C577.02,425.40 576.85,423.03 577.40,422.70C577.95,422.70 579.22,423.07 580.10,423.40C580.98,423.73 581.93,424.05 582.70,424.70C583.47,425.35 583.93,426.53 584.70,427.30C585.47,428.07 586.32,428.85 587.30,429.30C588.28,429.75 589.38,429.95 590.60,430.00C591.82,430.00 593.28,429.88 594.60,429.60C595.92,429.32 597.30,428.83 598.50,428.30C599.70,427.77 600.58,427.00 601.80,426.40C603.02,425.80 604.58,425.20 605.80,424.70C607.02,424.20 608.23,423.75 609.10,423.40C609.97,423.05 610.68,422.73 611.00,422.60" fill="none" stroke="#000" stroke-width="1.8" stroke-linejoin="round" stroke-linecap="round"/><rect x="44.2" y="19.7" width="567.50" height="568.30" fill="none" stroke="#000" stroke-width="1.6"/><line x1="44.2" y1="209.5" x2="611.7" y2="209.5" stroke="#000" stroke-width="1.6"/><line x1="44.2" y1="398.6" x2="611.7" y2="398.6" stroke="#000" stroke-width="1.6"/><line x1="124" y1="588.0" x2="124" y2="578.5" stroke="#000" stroke-width="1.2"/><line x1="204" y1="588.0" x2="204" y2="578.5" stroke="#000" stroke-width="1.2"/><line x1="284" y1="588.0" x2="284" y2="578.5" stroke="#000" stroke-width="1.2"/><line x1="364" y1="588.0" x2="364" y2="578.5" stroke="#000" stroke-width="1.2"/><line x1="444" y1="588.0" x2="444" y2="578.5" stroke="#000" stroke-width="1.2"/><line x1="524" y1="588.0" x2="524" y2="578.5" stroke="#000" stroke-width="1.2"/><line x1="604" y1="588.0" x2="604" y2="578.5" stroke="#000" stroke-width="1.2"/><g font-family="'Liberation Serif', serif" font-size="25" text-anchor="middle" fill="#000"><text x="42.5" y="611.6">4000</text><text x="124" y="611.6">3500</text><text x="204" y="611.6">3000</text><text x="284" y="611.6">2500</text><text x="364" y="611.6">2000</text><text x="444" y="611.6">1500</text><text x="524" y="611.6">1000</text><text x="604" y="611.6">500</text></g><text x="277" y="639.5" font-family="'Liberation Serif', 'Noto Serif CJK SC', serif" font-size="25" fill="#000"><tspan font-family="'Noto Serif CJK SC', serif" font-size="24" font-weight="300">波数</tspan>/cm<tspan font-size="15" dy="-10">−1</tspan></text><text x="272" y="117.1" font-family="'Liberation Serif', serif" font-size="25.5" letter-spacing="-0.3" fill="#000">C<tspan font-size="16.5" dy="5">12</tspan><tspan dy="-5" dx="-1">-3(OH)-DM</tspan></text><text x="272" y="302.5" font-family="'Liberation Serif', serif" font-size="25.5" letter-spacing="-0.3" fill="#000">C<tspan font-size="16.5" dy="5">14</tspan><tspan dy="-5" dx="-1">-3(OH)-DM</tspan></text><text x="272" y="478.6" font-family="'Liberation Serif', serif" font-size="25.5" letter-spacing="-0.3" fill="#000">C<tspan font-size="16.5" dy="5">16</tspan><tspan dy="-5" dx="-1">-3(OH)-DM</tspan></text></svg>
</body></html>
